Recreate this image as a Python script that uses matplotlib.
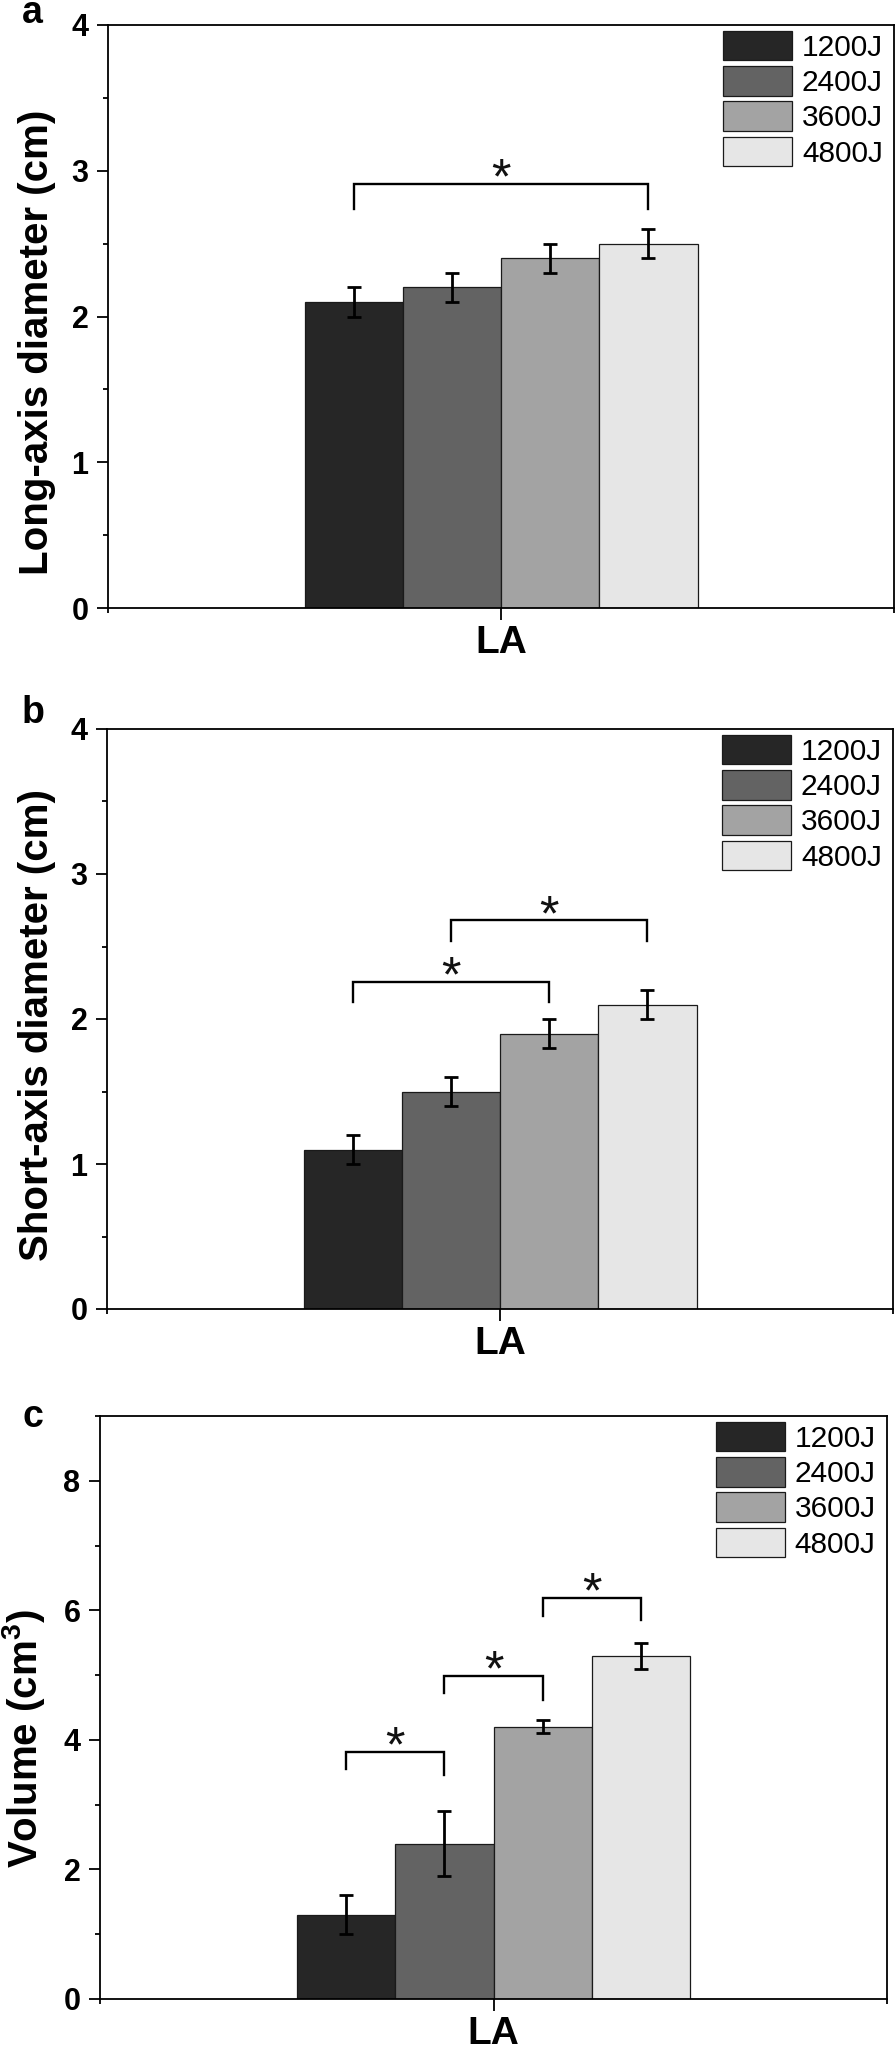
import matplotlib
matplotlib.use('Agg')
import matplotlib.pyplot as plt
from matplotlib.ticker import MultipleLocator, AutoMinorLocator
import numpy as np

plt.rcParams['font.family'] = ['Liberation Sans', 'DejaVu Sans']
plt.rcParams['mathtext.fontset'] = 'custom'
plt.rcParams['mathtext.rm'] = 'Liberation Sans:bold'
plt.rcParams['mathtext.bf'] = 'Liberation Sans:bold'
plt.rcParams['mathtext.it'] = 'Liberation Sans:bold'

# ---------------- data ----------------
category = ['LA']
energies = ['1200J', '2400J', '3600J', '4800J']
bar_colors = ['#262626', '#636363', '#a3a3a3', '#e6e6e6']

long_axis = [2.1, 2.2, 2.4, 2.5]
long_axis_err = [0.1, 0.1, 0.1, 0.1]
short_axis = [1.1, 1.5, 1.9, 2.1]
short_axis_err = [0.1, 0.1, 0.1, 0.1]
volume = [1.3, 2.4, 4.2, 5.3]
volume_err = [0.3, 0.5, 0.1, 0.2]

# significance brackets: (from bar, to bar, bracket level, left leg end, right leg end)
long_sig = [(0, 3, 2.91, 2.74, 2.74)]
short_sig = [(0, 2, 2.255, 2.12, 2.12), (1, 3, 2.68, 2.54, 2.54)]
volume_sig = [(0, 1, 3.82, 3.55, 3.46), (1, 2, 4.99, 4.72, 4.62), (2, 3, 6.19, 5.91, 5.85)]

panel_letters = ['a', 'b', 'c']
ylabels = ['Long-axis diameter (cm)', 'Short-axis diameter (cm)', 'Volume (cm$^{3}$)']
ymax = [4, 4, 9]
ystep = [1, 1, 2]

# ---------------- layout (pixels) ----------------
W, H = 896, 2051
fig = plt.figure(figsize=(W / 100, H / 100), dpi=100)

boxes = [(108, 25, 894, 608), (107, 729, 893, 1309), (100, 1416, 887, 1999)]
ylabel_pos = [(37, 342), (37, 1025), (24, 1739)]
letter_pos = [(22, 23), (22, 723), (22, 1427)]

panels = [
    (long_axis, long_axis_err, long_sig),
    (short_axis, short_axis_err, short_sig),
    (volume, volume_err, volume_sig),
]

offsets = np.arange(len(energies)) - (len(energies) - 1) / 2.0

for k, (vals, errs, sigs) in enumerate(panels):
    l, t, r, b = boxes[k]
    ax = fig.add_axes([l / W, 1 - b / H, (r - l) / W, (b - t) / H])
    for i in range(len(energies)):
        ax.bar(offsets[i], vals[i], width=1.0, color=bar_colors[i],
               edgecolor='#1a1a1a', linewidth=0.9, label=energies[i], zorder=2)
    ax.errorbar(offsets, vals, yerr=errs, fmt='none', ecolor='black',
                elinewidth=2.0, capsize=4.8, capthick=2.0, zorder=3)
    for (i, j, top, lb, rb) in sigs:
        x1, x2 = offsets[i], offsets[j]
        ax.plot([x1, x1, x2, x2], [lb, top, top, rb], color='black', lw=1.7,
                solid_joinstyle='miter', zorder=3)
        ax.annotate('*', xy=((x1 + x2) / 2, top), xytext=(0, -7),
                    textcoords='offset points', ha='center', va='baseline',
                    fontsize=36, color='#111111')

    ax.set_xlim(-4, 4)
    ax.set_ylim(0, ymax[k])
    ax.set_xticks([0])
    ax.set_xticklabels(category, fontsize=28, fontweight='bold')
    ax.set_xticks([-4, 4], minor=True)
    ax.yaxis.set_major_locator(MultipleLocator(ystep[k]))
    ax.yaxis.set_minor_locator(AutoMinorLocator(2))
    ax.tick_params(axis='y', which='major', direction='out', length=8, width=1.3,
                   labelsize=22, pad=6)
    ax.tick_params(axis='y', which='minor', direction='out', length=3.5, width=1.3)
    ax.tick_params(axis='x', which='major', direction='out', length=8.6, width=1.3, pad=3.5)
    ax.tick_params(axis='x', which='minor', direction='out', length=3.5, width=1.3)
    for lab in ax.get_yticklabels():
        lab.set_fontweight('bold')
    for s in ax.spines.values():
        s.set_linewidth(1.3)

    ax.legend(loc='upper left', bbox_to_anchor=(0.783, 0.99), frameon=False,
              borderpad=0, borderaxespad=0, fontsize=21.5, handlelength=2.3,
              handleheight=1.14, labelspacing=0.15, handletextpad=0.33)

    yx, yy = ylabel_pos[k]
    fig.text(yx / W, 1 - yy / H, ylabels[k], rotation=90, ha='center', va='center',
             fontsize=29, fontweight='bold')
    lx, ly = letter_pos[k]
    fig.text(lx / W, 1 - ly / H, panel_letters[k], ha='left', va='baseline',
             fontsize=27, fontweight='bold')

fig.savefig('out.png', dpi=100)
